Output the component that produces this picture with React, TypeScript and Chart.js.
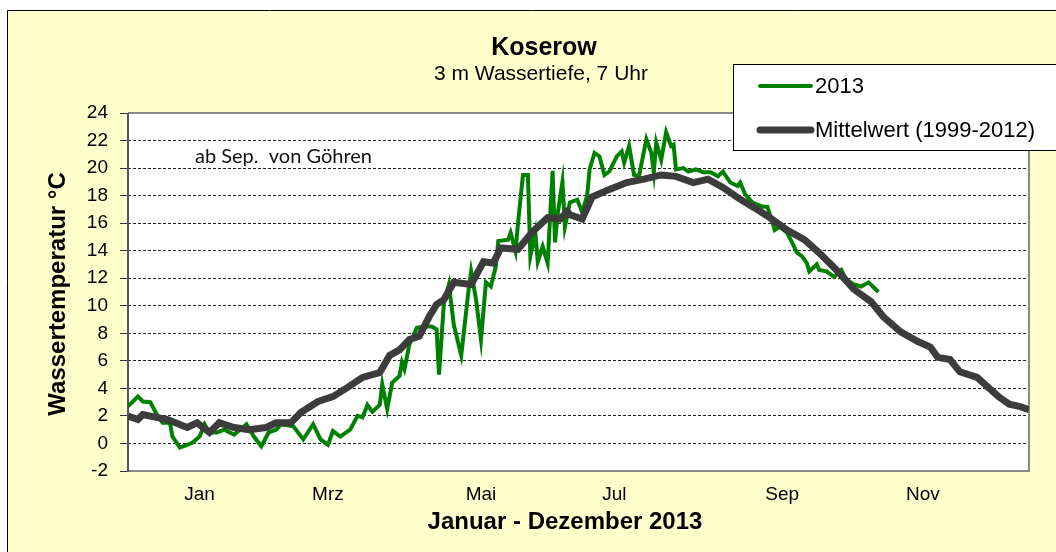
import React, { useEffect, useRef } from "react";
import { Chart, registerables } from "chart.js";

Chart.register(...registerables);

const chartTitle = "Koserow";
const chartSubtitle = "3 m Wassertiefe, 7 Uhr";
const xAxisTitle = "Januar - Dezember 2013";
const yAxisTitle = "Wassertemperatur °C";
const noteText = "ab Sep.  von Göhren";

const monthTickDays = [29, 81, 143, 197, 265, 322];
const monthTickLabels = ["Jan", "Mrz", "Mai", "Jul", "Sep", "Nov"];

const yMin = -2;
const yMax = 24;
const yStep = 2;

const series2013Label = "2013";
const series2013Days = [
  0, 4, 6, 9, 12, 14, 17, 18, 21, 24, 26, 29, 31, 33, 36, 39, 43, 48, 51, 54,
  57, 60, 62, 67, 71, 75, 78, 81, 83, 86, 90, 93, 95, 97, 99, 102, 103, 105, 107, 110,
  111, 112, 114, 117, 120, 123, 125, 126, 128, 130, 132, 135, 138, 139, 141, 143, 145, 147, 149, 150,
  154, 155, 157, 158, 160, 162, 163, 165, 166, 168, 170, 172, 173, 174, 176, 177, 179, 182, 184, 186,
  187, 189, 191, 193, 195, 198, 200, 201, 203, 205, 207, 210, 212, 213, 214, 216, 218, 220, 221, 222,
  225, 227, 230, 233, 236, 239, 241, 244, 247, 248, 250, 253, 257, 259, 261, 262, 264, 267, 269, 271,
  273, 275, 276, 279, 280, 283, 286, 289, 291, 294, 297, 300, 304,
];
const series2013Values = [
  2.7, 3.4, 3.05, 3.0, 2.0, 1.5, 1.5, 0.5, -0.3, -0.1, 0.05, 0.5, 1.4, 0.8, 0.8, 1.0, 0.65, 1.4, 0.5, -0.2,
  0.8, 1.0, 1.4, 1.25, 0.3, 1.4, 0.3, -0.1, 0.9, 0.5, 1.0, 2.0, 1.9, 2.8, 2.3, 2.8, 4.3, 2.5, 4.4, 4.9,
  5.9, 5.4, 7.2, 8.4, 8.5, 8.5, 8.3, 5.0, 10.3, 11.55, 8.6, 6.4, 11.2, 12.5, 10.45, 7.55, 11.7, 11.4, 12.85, 14.7,
  14.8, 15.3, 13.95, 16.0, 19.5, 19.5, 13.6, 15.3, 13.2, 14.3, 13.1, 19.8, 14.6, 16.6, 19.0, 15.75, 17.5, 17.7, 16.8, 18.0,
  19.9, 21.1, 20.85, 19.5, 19.75, 20.85, 21.2, 20.4, 21.6, 19.5, 19.4, 22.1, 21.1, 19.7, 21.85, 20.6, 22.6, 21.6, 21.7, 19.9,
  20.0, 19.75, 19.9, 19.7, 19.7, 19.4, 19.75, 18.95, 18.7, 18.95, 18.1, 17.5, 17.2, 17.2, 16.1, 15.5, 15.75, 15.3, 14.6, 13.85,
  13.6, 13.1, 12.5, 13.0, 12.6, 12.5, 12.1, 12.6, 11.9, 11.55, 11.4, 11.7, 11.0,
];

const meanLabel = "Mittelwert (1999-2012)";
const meanDays = [
  0, 4, 6, 16, 24, 28, 33, 37, 43, 49, 56, 60, 66, 70, 77, 83, 89, 95, 102, 106,
  110, 114, 118, 122, 125, 128, 132, 139, 144, 148, 151, 158, 164, 170, 175, 178, 179, 184, 188, 195,
  202, 209, 216, 222, 229, 235, 241, 247, 253, 260, 267, 274, 280, 287, 294, 301, 306, 313, 320, 325,
  328, 333, 337, 344, 348, 353, 357, 361, 365,
];
const meanValues = [
  2.0, 1.74, 2.1, 1.74, 1.16, 1.5, 0.8, 1.5, 1.16, 1.0, 1.16, 1.5, 1.5, 2.25, 3.05, 3.4, 4.07, 4.8, 5.15, 6.4,
  6.8, 7.55, 7.8, 9.2, 10.1, 10.45, 11.7, 11.55, 13.2, 13.1, 14.2, 14.1, 15.4, 16.4, 16.3, 16.85, 16.6, 16.3, 17.9, 18.45,
  18.95, 19.2, 19.5, 19.4, 18.95, 19.2, 18.6, 17.85, 17.2, 16.4, 15.5, 14.8, 13.85, 12.6, 11.2, 10.3, 9.2, 8.1, 7.4, 7.0,
  6.25, 6.1, 5.2, 4.8, 4.15, 3.35, 2.85, 2.7, 2.45,
];

const GREEN = "#008000";
const DARK = "#3c3c3c";
const CREAM = "#FFFFCC";
const ARIAL = "'Liberation Sans', Arial, sans-serif";

const decorPlugin = {
  id: "decor",
  beforeDraw(chart: any) {
    const { ctx, width, height, chartArea } = chart;
    ctx.save();
    ctx.fillStyle = "#ffffff";
    ctx.fillRect(0, 0, width, height);
    ctx.fillStyle = CREAM;
    ctx.fillRect(7, 10, width - 7, height - 10);
    ctx.strokeStyle = "#000";
    ctx.lineWidth = 1;
    ctx.beginPath();
    ctx.moveTo(7.5, height);
    ctx.lineTo(7.5, 10.5);
    ctx.lineTo(width, 10.5);
    ctx.stroke();
    ctx.fillStyle = "#ffffff";
    ctx.fillRect(chartArea.left, chartArea.top, chartArea.right - chartArea.left, chartArea.bottom - chartArea.top);
    ctx.restore();
  },
  beforeDatasetsDraw(chart: any) {
    const { ctx, chartArea } = chart;
    const { left, top, right, bottom } = chartArea;
    ctx.save();
    ctx.strokeStyle = "#8a8a8a";
    ctx.lineWidth = 2;
    ctx.beginPath();
    ctx.moveTo(left, top);
    ctx.lineTo(right, top);
    ctx.lineTo(right, bottom);
    ctx.lineTo(left, bottom);
    ctx.stroke();
    ctx.strokeStyle = "#555";
    ctx.beginPath();
    ctx.moveTo(left, top);
    ctx.lineTo(left, bottom + 1);
    ctx.stroke();
    ctx.restore();
  },
  afterDraw(chart: any) {
    const { ctx } = chart;
    ctx.save();
    ctx.fillStyle = "#000";
    ctx.textAlign = "center";
    ctx.textBaseline = "middle";
    ctx.font = `bold 25px ${ARIAL}`;
    ctx.fillText(chartTitle, 544, 48);
    ctx.font = `21px ${ARIAL}`;
    ctx.fillText(chartSubtitle, 541, 74);

    ctx.font = `bold 24px ${ARIAL}`;
    ctx.fillText(xAxisTitle, 565, 522);

    ctx.save();
    ctx.translate(58, 294);
    ctx.rotate(-Math.PI / 2);
    ctx.fillText(yAxisTitle, 0, 0);
    ctx.restore();

    ctx.textAlign = "left";
    ctx.font = `20px Lato, 'Open Sans', sans-serif`;
    ctx.fillStyle = "#111";
    ctx.fillText(noteText, 195, 157);

    // legend
    const lx = 733.5;
    const ly = 64.5;
    ctx.fillStyle = "#fff";
    ctx.fillRect(lx, ly, chart.width - lx + 5, 86);
    ctx.strokeStyle = "#000";
    ctx.lineWidth = 1;
    ctx.strokeRect(lx, ly, chart.width - lx + 5, 86);
    const items = chart.data.datasets;
    const rows = [86, 130];
    items.forEach((ds: any, i: number) => {
      const y = rows[i];
      ctx.strokeStyle = ds.borderColor;
      ctx.lineWidth = ds.borderWidth;
      ctx.lineCap = "round";
      ctx.beginPath();
      ctx.moveTo(760, y);
      ctx.lineTo(811, y);
      ctx.stroke();
      ctx.fillStyle = "#000";
      ctx.font = `22px ${ARIAL}`;
      ctx.textAlign = "left";
      ctx.fillText(ds.label, 815, y + 1);
    });
    ctx.restore();
  },
};

export default function App() {
  const canvasRef = useRef<HTMLCanvasElement | null>(null);

  useEffect(() => {
    if (!canvasRef.current) return;
    const chart = new Chart(canvasRef.current, {
      type: "line",
      data: {
        datasets: [
          {
            label: series2013Label,
            data: series2013Days.map((d, i) => ({ x: d, y: series2013Values[i] })),
            borderColor: GREEN,
            borderWidth: 4,
            pointRadius: 0,
            tension: 0,
            fill: false,
            order: 2,
          },
          {
            label: meanLabel,
            data: meanDays.map((d, i) => ({ x: d, y: meanValues[i] })),
            borderColor: DARK,
            borderWidth: 7,
            pointRadius: 0,
            tension: 0,
            fill: false,
            order: 1,
          },
        ],
      },
      options: {
        responsive: false,
        animation: false,
        events: [],
        layout: { padding: { left: 0, top: 113, right: 27, bottom: 0 } },
        plugins: {
          legend: { display: false },
          title: { display: false },
          tooltip: { enabled: false },
        },
        scales: {
          x: {
            type: "linear",
            min: 0,
            max: 365,
            afterFit: (scale: any) => {
              scale.height = 81;
            },
            afterBuildTicks: (scale: any) => {
              scale.ticks = monthTickDays.map((v) => ({ value: v }));
            },
            grid: { display: false, drawTicks: false },
            border: { display: false },
            ticks: {
              autoSkip: false,
              maxRotation: 0,
              padding: 12,
              color: "#000",
              font: { family: ARIAL, size: 19 },
              callback: (value: any) => {
                const idx = monthTickDays.indexOf(Number(value));
                return idx >= 0 ? monthTickLabels[idx] : "";
              },
            },
          },
          y: {
            min: yMin,
            max: yMax,
            afterFit: (scale: any) => {
              scale.width = 128;
            },
            ticks: {
              stepSize: yStep,
              padding: 12,
              color: "#000",
              font: { family: ARIAL, size: 19 },
            },
            grid: {
              color: (c: any) =>
                c.tick && (c.tick.value === yMin || c.tick.value === yMax) ? "rgba(0,0,0,0)" : "#222",
              lineWidth: 1,
              drawTicks: true,
              tickLength: 8,
              tickColor: "#333",
              tickWidth: 1,
              tickBorderDash: [],
            },
            border: { display: false, dash: [3, 2] },
          },
        },
      },
      plugins: [decorPlugin],
    });
    return () => chart.destroy();
  }, []);

  return (
    <div style={{ position: "fixed", left: 0, top: 0, width: 1056, height: 552 }}>
      <canvas ref={canvasRef} width={1056} height={552} style={{ display: "block" }} />
    </div>
  );
}
